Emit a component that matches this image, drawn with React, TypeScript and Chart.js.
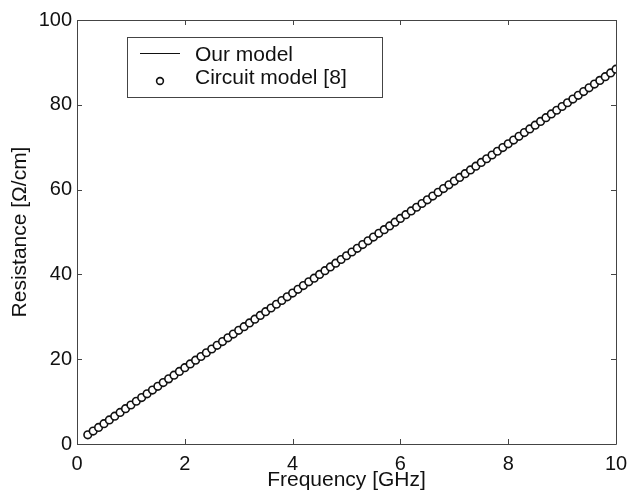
import React, { useEffect, useRef } from "react";
import { Chart, registerables } from "chart.js";

Chart.register(...registerables);

const frequencyGHz = [
  0.2, 0.3, 0.4, 0.5, 0.6, 0.7, 0.8, 0.9, 1.0, 1.1,
  1.2, 1.3, 1.4, 1.5, 1.6, 1.7, 1.8, 1.9, 2.0, 2.1,
  2.2, 2.3, 2.4, 2.5, 2.6, 2.7, 2.8, 2.9, 3.0, 3.1,
  3.2, 3.3, 3.4, 3.5, 3.6, 3.7, 3.8, 3.9, 4.0, 4.1,
  4.2, 4.3, 4.4, 4.5, 4.6, 4.7, 4.8, 4.9, 5.0, 5.1,
  5.2, 5.3, 5.4, 5.5, 5.6, 5.7, 5.8, 5.9, 6.0, 6.1,
  6.2, 6.3, 6.4, 6.5, 6.6, 6.7, 6.8, 6.9, 7.0, 7.1,
  7.2, 7.3, 7.4, 7.5, 7.6, 7.7, 7.8, 7.9, 8.0, 8.1,
  8.2, 8.3, 8.4, 8.5, 8.6, 8.7, 8.8, 8.9, 9.0, 9.1,
  9.2, 9.3, 9.4, 9.5, 9.6, 9.7, 9.8, 9.9, 10.0,
];

const ourModel = [
  2.16, 3.04, 3.92, 4.80, 5.68, 6.56, 7.44, 8.32, 9.20, 10.08,
  10.96, 11.84, 12.72, 13.60, 14.48, 15.36, 16.24, 17.12, 18.00, 18.88,
  19.76, 20.64, 21.52, 22.40, 23.28, 24.16, 25.04, 25.92, 26.80, 27.68,
  28.56, 29.44, 30.32, 31.20, 32.08, 32.96, 33.84, 34.72, 35.60, 36.48,
  37.36, 38.24, 39.12, 40.00, 40.88, 41.76, 42.64, 43.52, 44.40, 45.28,
  46.16, 47.04, 47.92, 48.80, 49.68, 50.56, 51.44, 52.32, 53.20, 54.08,
  54.96, 55.84, 56.72, 57.60, 58.48, 59.36, 60.24, 61.12, 62.00, 62.88,
  63.76, 64.64, 65.52, 66.40, 67.28, 68.16, 69.04, 69.92, 70.80, 71.68,
  72.56, 73.44, 74.32, 75.20, 76.08, 76.96, 77.84, 78.72, 79.60, 80.48,
  81.36, 82.24, 83.12, 84.00, 84.88, 85.76, 86.64, 87.52, 88.40,
];

const circuitModel = [
  2.16, 3.04, 3.92, 4.80, 5.68, 6.56, 7.44, 8.32, 9.20, 10.08,
  10.96, 11.84, 12.72, 13.60, 14.48, 15.36, 16.24, 17.12, 18.00, 18.88,
  19.76, 20.64, 21.52, 22.40, 23.28, 24.16, 25.04, 25.92, 26.80, 27.68,
  28.56, 29.44, 30.32, 31.20, 32.08, 32.96, 33.84, 34.72, 35.60, 36.48,
  37.36, 38.24, 39.12, 40.00, 40.88, 41.76, 42.64, 43.52, 44.40, 45.28,
  46.16, 47.04, 47.92, 48.80, 49.68, 50.56, 51.44, 52.32, 53.20, 54.08,
  54.96, 55.84, 56.72, 57.60, 58.48, 59.36, 60.24, 61.12, 62.00, 62.88,
  63.76, 64.64, 65.52, 66.40, 67.28, 68.16, 69.04, 69.92, 70.80, 71.68,
  72.56, 73.44, 74.32, 75.20, 76.08, 76.96, 77.84, 78.72, 79.60, 80.48,
  81.36, 82.24, 83.12, 84.00, 84.88, 85.76, 86.64, 87.52, 88.40,
];

const xTicks = [0, 2, 4, 6, 8, 10];
const yTicks = [0, 20, 40, 60, 80, 100];
const seriesLabels = ["Our model", "Circuit model [8]"];
const xTitle = "Frequency [GHz]";
const yTitle = "Resistance [Ω/cm]";

const FONT = "'Liberation Sans', Arial, Helvetica, sans-serif";

const framePlugin = {
  id: "matlabFrame",
  afterDraw(chart: any) {
    const { ctx, chartArea } = chart;
    const { left, right, top, bottom } = chartArea;
    const xs = chart.scales.x;
    const ys = chart.scales.y;
    ctx.save();
    ctx.strokeStyle = "#444";
    ctx.lineWidth = 1;
    ctx.beginPath();
    ctx.rect(Math.round(left) + 0.5, Math.round(top) + 0.5, Math.round(right - left), Math.round(bottom - top));
    ctx.stroke();
    const tl = 5;
    ctx.beginPath();
    xTicks.forEach((v) => {
      const px = Math.round(xs.getPixelForValue(v)) + 0.5;
      ctx.moveTo(px, bottom);
      ctx.lineTo(px, bottom - tl);
      ctx.moveTo(px, top);
      ctx.lineTo(px, top + tl);
    });
    yTicks.forEach((v) => {
      const py = Math.round(ys.getPixelForValue(v)) + 0.5;
      ctx.moveTo(left, py);
      ctx.lineTo(left + tl, py);
      ctx.moveTo(right, py);
      ctx.lineTo(right - tl, py);
    });
    ctx.stroke();

    // legend box
    const bx = 127, by = 37, bw = 255, bh = 60;
    ctx.fillStyle = "#fff";
    ctx.fillRect(bx, by, bw, bh);
    ctx.strokeStyle = "#444";
    ctx.strokeRect(bx + 0.5, by + 0.5, bw, bh);
    ctx.font = `21px ${FONT}`;
    ctx.fillStyle = "#111";
    ctx.textBaseline = "middle";
    ctx.textAlign = "left";
    ctx.strokeStyle = "#111";
    ctx.beginPath();
    ctx.moveTo(140, 53.5);
    ctx.lineTo(180, 53.5);
    ctx.stroke();
    ctx.fillText(seriesLabels[0], 195, 55);
    ctx.lineWidth = 1.6;
    ctx.beginPath();
    ctx.arc(160, 81, 3.4, 0, Math.PI * 2);
    ctx.stroke();
    ctx.fillText(seriesLabels[1], 195, 78);
    ctx.restore();
  },
};

export default function App() {
  const ref = useRef<HTMLCanvasElement | null>(null);
  useEffect(() => {
    if (!ref.current) return;
    const chart = new Chart(ref.current, {
      type: "scatter",
      data: {
        datasets: [
          {
            label: seriesLabels[1],
            data: frequencyGHz.map((f, i) => ({ x: f, y: circuitModel[i] })),
            showLine: false,
            pointRadius: 3.8,
            pointBorderWidth: 1.6,
            pointBorderColor: "#111",
            pointBackgroundColor: "#fff",
            order: 1,
          },
          {
            label: seriesLabels[0],
            data: frequencyGHz.map((f, i) => ({ x: f, y: ourModel[i] })),
            showLine: true,
            borderColor: "#111",
            borderWidth: 1,
            pointRadius: 0,
            order: 2,
          },
        ],
      },
      options: {
        animation: false,
        responsive: true,
        maintainAspectRatio: false,
        layout: { padding: { top: 20, right: 11, left: 0, bottom: 0 } },
        plugins: { legend: { display: false }, tooltip: { enabled: false } },
        scales: {
          x: {
            type: "linear",
            min: 0,
            max: 10,
            afterBuildTicks: (s: any) => {
              s.ticks = xTicks.map((v) => ({ value: v }));
            },
            afterFit: (s: any) => {
              s.height = 51;
              s.paddingLeft = 0;
              s.paddingRight = 0;
            },
            grid: { display: false, drawTicks: false },
            border: { display: false },
            ticks: {
              color: "#111",
              font: { family: FONT, size: 20, lineHeight: 1.2 },
              padding: 8,
              maxRotation: 0,
            },
            title: {
              display: true,
              text: xTitle,
              color: "#111",
              font: { family: FONT, size: 21, lineHeight: 1.0 },
              padding: { top: 0, bottom: 4.5 },
            },
          },
          y: {
            type: "linear",
            min: 0,
            max: 100,
            afterBuildTicks: (s: any) => {
              s.ticks = yTicks.map((v) => ({ value: v }));
            },
            afterFit: (s: any) => {
              s.width = 77;
              s.paddingTop = 0;
              s.paddingBottom = 0;
            },
            grid: { display: false, drawTicks: false },
            border: { display: false },
            ticks: {
              color: "#111",
              font: { family: FONT, size: 20 },
              padding: 5,
            },
            title: {
              display: true,
              text: yTitle,
              color: "#111",
              font: { family: FONT, size: 21, lineHeight: 1.0 },
              padding: { top: 10, bottom: 0 },
            },
          },
        },
      },
      plugins: [framePlugin],
    });
    return () => chart.destroy();
  }, []);
  return (
    <div style={{ position: "fixed", left: 0, top: 0, width: 627, height: 495, background: "#fff" }}>
      <canvas ref={ref} />
    </div>
  );
}
